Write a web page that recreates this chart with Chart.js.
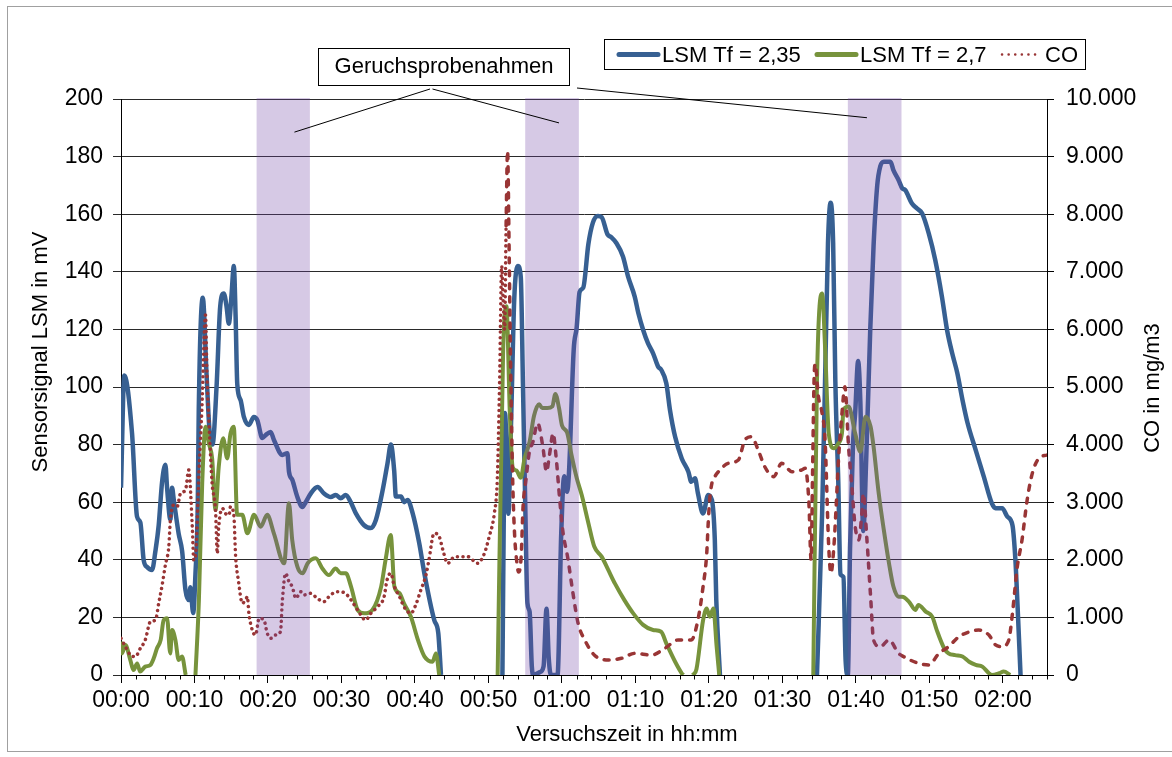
<!DOCTYPE html>
<html>
<head>
<meta charset="utf-8">
<script src="https://cdn.jsdelivr.net/npm/chart.js@4.4.1/dist/chart.umd.min.js"></script>
<style>
  html, body { margin: 0; padding: 0; background: #fff; }
  #wrap { width: 1172px; height: 757px; }
</style>
</head>
<body>
<div id="wrap"><canvas id="chart" width="1172" height="757"></canvas></div>
<script>
const lsm235Time = [0, 0.45, 1.5, 2.18, 2.63, 3.08, 3.55, 4.23, 4.68, 5.13, 5.59, 6.04, 6.27, 6.72, 6.95, 7.17, 7.85, 8.32, 8.77, 9.22, 9.45, 9.82, 10.13, 10.45, 10.58, 11.13, 11.63, 12.04, 12.45, 13.0, 13.5, 13.99, 14.36, 14.67, 15.04, 15.35, 15.59, 15.82, 16.27, 16.72, 17.4, 18.08, 18.55, 19.23, 19.68, 20.36, 20.81, 21.96, 22.64, 22.86, 23.32, 24.0, 24.68, 25.13, 25.81, 26.73, 27.63, 28.54, 29.22, 29.9, 30.58, 31.26, 31.94, 33.08, 34.0, 34.68, 35.59, 36.27, 36.72, 37.17, 37.4, 38.1, 38.54, 39.0, 39.68, 40.58, 41.27, 42.63, 43.17, 43.54,
  47,
  51.9, 52.1, 52.25, 52.5, 52.7, 53.1, 53.5, 54.0, 54.4, 54.7, 55.0, 55.3, 55.6, 55.9, 56.1, 57.0, 57.5, 57.9, 58.2, 58.5, 59.4, 59.9, 60.3, 60.7, 60.95, 61.6, 62.0, 62.4, 62.9, 63.6, 64.2, 64.9, 65.4, 66.2, 66.7, 67.4, 68.3, 69.0, 69.9, 70.4, 71.05, 71.7, 72.4, 73.1, 73.5, 74.2, 74.7, 75.4, 76.3, 77.2, 77.6, 78.1, 78.5, 79.2, 79.9, 80.4, 80.8, 81.0, 81.5,
  88,
  94.7, 95.4, 95.8, 96.2, 96.55, 96.9, 97.2, 97.6, 97.9, 98.3, 98.6, 98.9, 99.2, 99.6, 99.9, 100.3, 100.6, 101.0, 101.4, 101.95, 102.4, 102.9, 103.3, 103.8, 104.7, 105.1, 105.8, 106.3, 106.7, 107.6, 108.3, 109.0, 109.9, 110.8, 111.7, 112.4, 113.1, 113.8, 114.5, 115.2, 116.3, 117.4, 118.5, 119.0, 119.9, 120.6, 121.3, 121.7, 121.96, 122.4];
const lsm235Values = [65, 104, 84, 55, 53, 40, 37.5, 36.5, 43, 52, 67, 73, 65, 54, 65, 61, 49, 43, 29.5, 26, 30.5, 21.5, 35, 60, 92, 131, 105, 85, 80, 100, 128, 132.5, 128, 122, 132, 142, 125, 101, 95.5, 89.6, 86.8, 89.6, 88.5, 82.3, 83.3, 84.4, 81.6, 76.4, 77, 70.5, 67.7, 61.8, 58.3, 60, 63, 65.3, 63, 61.8, 62.5, 61.4, 62.5, 60, 56.2, 52, 51, 53.8, 64, 73.6, 80, 71, 62, 62, 60, 60.8, 56.2, 45.8, 35.4, 19, 14.6, 0,
  null,
  0, 60, 91, 75, 56, 90, 130, 142, 138, 100, 60, 25, 22, 3, 0, 1, 3, 23, 6, 0, 0, 49, 69, 63.6, 70, 113, 120.6, 133, 134.5, 149.7, 157, 159.4, 159, 153, 152, 150, 145.3, 138.3, 131.4, 125.6, 119.8, 115.2, 111.7, 107, 106, 101.3, 92, 82.7, 75.2, 70.6, 67.1, 68.3, 63.1, 56.1, 62.5, 60.8, 46.9, 26, 0,
  null,
  0, 56, 102, 150, 164, 150, 102, 67, 35, 34, 5, 0, 44, 80, 91, 109, 95, 50, 75, 120, 149, 170, 176.5, 178.2, 178.2, 175.3, 171.9, 169, 168.4, 163.8, 162, 160.3, 153.4, 144, 131.4, 119.8, 111.7, 104.8, 95.5, 87.4, 78.1, 68.9, 59.6, 57.9, 57.9, 55, 52, 40, 26, 0];

const lsm27Time = [0, 0.13, 0.6, 1.27, 1.7, 2.2, 2.6, 3.3, 4.0, 4.45, 4.9, 5.4, 5.8, 6.27, 6.7, 6.95, 7.4, 7.85, 8.3, 8.8,
  9.4,
  10.13, 10.6, 11.05, 11.5, 11.95, 12.4, 12.86, 13.3, 13.9, 14.45, 14.9, 15.35, 15.8, 16.5, 17.2, 18.1, 19.0, 19.9, 20.8, 22.2, 22.85, 23.3, 24.0, 24.7, 25.4, 26.5, 27.4, 28.3, 29.2, 29.9, 30.6, 31.3, 32.2, 33.1, 34.2, 35.4, 36.0, 36.7, 37.2, 37.9, 38.5, 39.45, 40.4, 41.3, 42.4, 42.85, 43.3,
  47,
  51.25, 52.0, 52.45, 52.9, 53.3, 53.8, 54.4, 54.9, 55.6, 56.2, 56.9, 57.3, 58.0, 58.7, 59.1, 59.6, 60.0, 60.7, 61.3, 62.0, 62.7, 63.6, 64.4, 65.4, 66.3, 67.2, 68.5, 69.7, 71.05, 72.4, 73.5, 74.2, 75.4, 76.3, 76.5,
  77.2,
  77.8, 78.3, 79.2, 79.7, 80.1, 80.6, 81.05, 81.4,
  88,
  94.2, 94.7, 95.4, 95.8, 96.3, 97.0, 97.6, 98.1, 98.3, 99.0, 99.9, 100.6, 101.3, 102.0, 102.4, 103.1, 103.8, 104.5, 105.1, 105.8, 106.3, 107.2, 108.1, 108.5, 109.5, 110.4, 111.0, 112.0, 112.6, 113.5, 114.5, 115.4, 116.3, 117.2, 118.1, 118.5, 119.5, 120.1, 121.0];
const lsm27Values = [11.6, 7.5, 10.4, 5.2, 1.7, 4, 1.2, 2.9, 3.5, 5.8, 9.3, 12.2, 19, 19.7, 7.5, 15.6, 12.2, 5.2, 6.4, 0,
  null,
  0, 26, 66.6, 86.2, 80.4, 75.2, 57.3, 72.3, 82.2, 75.2, 83.9, 86.2, 55.6, 55.6, 49.2, 55.6, 51.5, 55.6, 49.2, 38.8, 59.6, 46.9, 37.6, 35.3, 38.8, 40.5, 37, 34.7, 37, 35.3, 35.3, 30.7, 22.6, 21.4, 22.6, 30.7, 40, 48.6, 30.7, 28.4, 24.9, 20.2, 12.2, 6.4, 4.6, 7.5, 0,
  null,
  0, 113, 128, 91.5, 72, 71, 68.5, 75, 81, 90, 94, 92.7, 92.7, 93.3, 97.6, 92.7, 86.7, 84.2, 76.4, 68.5, 62.4, 52.7, 44.6, 41.1, 36.5, 31.8, 26, 21.4, 17.4, 15.6, 15, 11, 4.6, 0.6, 0,
  null,
  0, 2, 19, 23.1, 20.2, 23.1, 9.8, 0,
  null,
  0, 102, 132.5, 114, 83.9, 78.7, 80.4, 83.9, 92, 93.2, 83.9, 77.5, 89.7, 86.2, 79.3, 63.1, 50.3, 38.8, 30.7, 27.2, 27.2, 25.5, 22.6, 24.3, 22, 20.2, 15.6, 9.3, 7.5, 6.9, 6.4, 4.6, 3.5, 2.9, 0.6, 0, 0.6, 1.2, 0];

const coTime = [0, 0.6, 1.27, 1.95, 2.63, 3.3, 4.0, 4.7, 5.13, 5.6, 6.04, 6.5, 6.72, 7.17, 7.64, 8.1, 8.77, 9.22, 9.7, 9.9, 10.13, 10.6, 11.0, 11.5, 11.7, 12.0, 12.4, 12.86, 13.1, 13.3, 13.8, 14.2, 14.7, 14.9, 15.35, 15.6, 16.0, 16.5, 16.95, 17.2, 17.4, 17.86, 18.3, 18.8, 19.45, 19.9, 20.4, 21.0, 21.7, 21.96, 22.4, 22.86, 23.3, 23.8, 24.45, 24.9, 25.8, 26.7, 27.6, 28.5, 29.45, 30.4, 31.3, 32.2, 33.3, 34.0, 34.9, 35.8, 36.2, 36.7, 37.2, 37.9, 38.5, 39.45, 40.1, 40.8, 41.5, 41.9, 42.6, 43.3, 43.8, 44.45, 45.4, 46.3, 47.2, 48.5, 49.45, 50.1, 50.8, 51.2, 51.5, 51.8, 52.0, 52.2, 52.4, 52.6, 52.8, 53.0, 53.3, 53.55, 53.8, 54.1, 54.45, 54.7, 55.1, 55.6, 56.0, 56.7, 57.4, 57.9, 58.3, 58.8, 59.2, 59.7, 60.1, 60.8, 61.5, 62.2, 63.1, 64.4, 66.3, 68.1, 69.9, 72.2, 74.0, 75.8, 77.6, 78.5, 79.2, 79.7, 79.9, 80.1, 80.4, 80.8, 81.5, 82.6, 84.0, 84.9, 85.8, 86.7, 87.6, 88.8, 89.9, 91.3, 92.6, 93.1, 93.6, 93.9, 94.1, 94.3, 94.45, 94.9, 95.4, 95.8, 96.3, 96.6, 97.0, 97.3, 97.6, 98.1, 98.5, 99.0, 99.45, 99.9, 100.4, 100.8, 101.0, 101.5, 102.0, 102.4, 103.3, 104.5, 105.8, 106.5, 108.5, 109.9, 111.3, 112.6, 114.0, 114.9, 116.7, 118.1, 119.0, 119.9, 120.8, 121.3, 121.96, 122.6, 123.3, 124.0, 124.9, 126.0];
const coValues = [637, 491, 347, 318, 463, 608, 925, 955, 1245, 1562, 1910, 2228, 2691, 2951, 2922, 3154, 3212, 3559, 2575, 1996, 2054, 3500, 4600, 6250, 5200, 4300, 3328, 2864, 2112, 2575, 2894, 2807, 2778, 2922, 2778, 2054, 1620, 1245, 1302, 1359, 1071, 781, 694, 984, 955, 724, 637, 694, 752, 1302, 1765, 1620, 1533, 1331, 1446, 1389, 1418, 1331, 1273, 1389, 1446, 1429, 1302, 1128, 955, 1071, 1186, 1359, 1649, 1765, 1533, 1359, 1186, 1071, 1215, 1476, 1736, 1996, 2460, 2401, 2170, 1939, 2054, 2054, 2054, 1939, 2112, 2401, 2807, 3400, 5000, 7100, 6500, 6000, 7800, 9100, 7500, 5500, 3364, 2455, 2030, 1788, 2054, 2900, 3385, 3900, 4022, 4370, 3964, 3530, 3819, 4196, 3790, 3038, 2517, 2025, 1418, 897, 608, 347, 260, 290, 376, 347, 463, 608, 608, 955, 1533, 2112, 2634, 3038, 3328, 3443, 3559, 3675, 3732, 4080, 4137, 3906, 3616, 3443, 3675, 3530, 3559, 3588, 3000, 2000, 3500, 5100, 5400, 4831, 4543, 4080, 2228, 1765, 2228, 2900, 3675, 4543, 5005, 3964, 3269, 2575, 2344, 2807, 3154, 2344, 1359, 608, 491, 608, 376, 318, 203, 174, 376, 491, 665, 723, 781, 694, 521, 491, 608, 1071, 1880, 2344, 3038, 3501, 3762, 3819];

// Geruchsprobenahmen (Minuten)
const bandStart = [18.45, 55.0, 98.9];
const bandEnd = [25.7, 62.3, 106.2];
// Zielpunkte der Hinweislinien (Minute, mV)
const calloutX = [23.6, 59.6, 101.5];
const calloutY = [188.5, 191.7, 193.5];

const seriesNames = ['LSM Tf = 2,35', 'LSM Tf = 2,7', 'CO'];
const colBlue = '#376092';
const colGreen = '#77933C';
const colRed = '#993535';

function toPoints(times, values) {
    return times.map((t, i) => ({ x: t, y: values[i] }));
}

function hhmm(v) {
    const h = Math.floor(v / 60);
    const m = Math.round(v % 60);
    return String(h).padStart(2, '0') + ':' + String(m).padStart(2, '0');
}

const FONT = '"Liberation Sans", Arial, sans-serif';
Chart.defaults.font.family = FONT;
Chart.defaults.color = '#000';

const decor = {
    id: 'decor',
    beforeDraw(chart) {
        const c = chart.ctx;
        c.save();
        c.fillStyle = '#fff';
        c.fillRect(0, 0, chart.width, chart.height);
        c.strokeStyle = '#a0a0a0';
        c.lineWidth = 1;
        c.strokeRect(7.5, 6.5, 1180, 745);
        c.restore();
    },
    afterDatasetsDraw(chart) {
        const c = chart.ctx;
        const xs = chart.scales.x, ys = chart.scales.y;
        const area = chart.chartArea;
        c.save();

        // Probenahme-Bereiche über den Linien
        c.fillStyle = 'rgba(115, 70, 165, 0.29)';
        bandStart.forEach((s, i) => {
            const x0 = xs.getPixelForValue(s), x1 = xs.getPixelForValue(bandEnd[i]);
            c.fillRect(x0, area.top - 1, x1 - x0, area.bottom - area.top + 1);
        });

        // kleine Teilstriche der Zeitachse
        c.strokeStyle = '#000';
        c.lineWidth = 1;
        c.beginPath();
        for (let v = 2; v <= 126; v += 2) {
            if (v % 10 === 0) continue;
            const px = Math.round(xs.getPixelForValue(v)) + 0.5;
            c.moveTo(px, area.bottom);
            c.lineTo(px, area.bottom + 4.5);
        }
        c.stroke();

        // Hinweis "Geruchsprobenahmen"
        c.beginPath();
        const starts = [[430, 89], [432.5, 89], [577, 88]];
        calloutX.forEach((v, i) => {
            c.moveTo(starts[i][0], starts[i][1]);
            c.lineTo(xs.getPixelForValue(v), ys.getPixelForValue(calloutY[i]));
        });
        c.stroke();
        c.fillStyle = '#fff';
        c.fillRect(318.5, 48.5, 251, 37);
        c.strokeRect(318.5, 48.5, 251, 37);
        c.fillStyle = '#000';
        c.font = '22px ' + FONT;
        c.textAlign = 'center';
        c.textBaseline = 'middle';
        c.fillText('Geruchsprobenahmen', 444, 67);

        // Legende
        c.fillStyle = '#fff';
        c.fillRect(604.5, 39.5, 481, 30);
        c.strokeStyle = '#000';
        c.strokeRect(604.5, 39.5, 481, 30);
        const legendY = 54.5;
        c.lineCap = 'round';
        c.lineWidth = 5;
        c.strokeStyle = colBlue;
        c.beginPath(); c.moveTo(619, legendY); c.lineTo(658, legendY); c.stroke();
        c.strokeStyle = colGreen;
        c.beginPath(); c.moveTo(817, legendY); c.lineTo(856, legendY); c.stroke();
        c.strokeStyle = colRed;
        c.lineWidth = 2.5;
        c.setLineDash([0.1, 6.5]);
        c.beginPath(); c.moveTo(1002, legendY); c.lineTo(1040, legendY); c.stroke();
        c.setLineDash([]);
        c.fillStyle = '#000';
        c.textAlign = 'left';
        c.font = '22px ' + FONT;
        c.fillText(seriesNames[0], 662, legendY + 1);
        c.fillText(seriesNames[1], 860, legendY + 1);
        c.fillText(seriesNames[2], 1045, legendY + 1);

        // Achsentitel
        c.textAlign = 'center';
        c.fillText('Versuchszeit in hh:mm', 627, 735);
        c.save();
        c.translate(41, 352);
        c.rotate(-Math.PI / 2);
        c.fillText('Sensorsignal LSM in mV', 0, 0);
        c.restore();
        c.save();
        c.translate(1153, 388);
        c.rotate(-Math.PI / 2);
        c.fillText('CO in mg/m3', 0, 0);
        c.restore();

        c.restore();
    }
};

new Chart(document.getElementById('chart'), {
    type: 'line',
    data: {
        datasets: [
            {
                label: seriesNames[2],
                data: toPoints(coTime, coValues),
                yAxisID: 'y2',
                borderColor: colRed,
                borderWidth: 3.5,
                borderCapStyle: 'round',
                segment: {
                    borderDash: ctx => ctx.p0.parsed.x < 52.3 ? [0.1, 5.5] : [5, 8]
                },
                order: 0
            },
            {
                label: seriesNames[1],
                data: toPoints(lsm27Time, lsm27Values),
                yAxisID: 'y',
                borderColor: colGreen,
                borderWidth: 4,
                order: 1
            },
            {
                label: seriesNames[0],
                data: toPoints(lsm235Time, lsm235Values),
                yAxisID: 'y',
                borderColor: colBlue,
                borderWidth: 4.5,
                order: 2
            }
        ]
    },
    options: {
        responsive: false,
        animation: false,
        devicePixelRatio: 1,
        layout: { padding: { top: 99, left: 0, right: 0, bottom: 0 } },
        elements: {
            point: { radius: 0 },
            line: { cubicInterpolationMode: 'monotone', borderJoinStyle: 'round' }
        },
        spanGaps: false,
        plugins: {
            legend: { display: false },
            tooltip: { enabled: false }
        },
        scales: {
            x: {
                type: 'linear',
                min: 0,
                max: 126,
                afterFit: s => { s.height = 82; },
                ticks: {
                    stepSize: 2,
                    autoSkip: false,
                    maxRotation: 0,
                    padding: 4,
                    font: { size: 23 },
                    callback: v => (v % 10 === 0 ? hhmm(v) : '')
                },
                grid: {
                    drawOnChartArea: false,
                    tickLength: 8,
                    tickColor: ctx => (ctx.tick && ctx.tick.value % 10 === 0 ? '#000' : 'rgba(0,0,0,0)')
                },
                border: { color: '#000', width: 1 }
            },
            y: {
                position: 'left',
                min: 0,
                max: 200,
                afterFit: s => { s.width = 121; },
                ticks: { stepSize: 20, padding: 10, font: { size: 23 } },
                grid: { color: '#2a2a2a', tickLength: 8 },
                border: { color: '#000', width: 1 }
            },
            y2: {
                position: 'right',
                min: 0,
                max: 10000,
                afterFit: s => { s.width = 125; },
                ticks: {
                    stepSize: 1000,
                    padding: 12,
                    font: { size: 23 },
                    callback: v => (v === 0 ? '0' : (v / 1000).toFixed(3))
                },
                grid: { drawOnChartArea: false, tickLength: 7, color: '#000' },
                border: { color: '#000', width: 1 }
            }
        }
    },
    plugins: [decor]
});
</script>
</body>
</html>
